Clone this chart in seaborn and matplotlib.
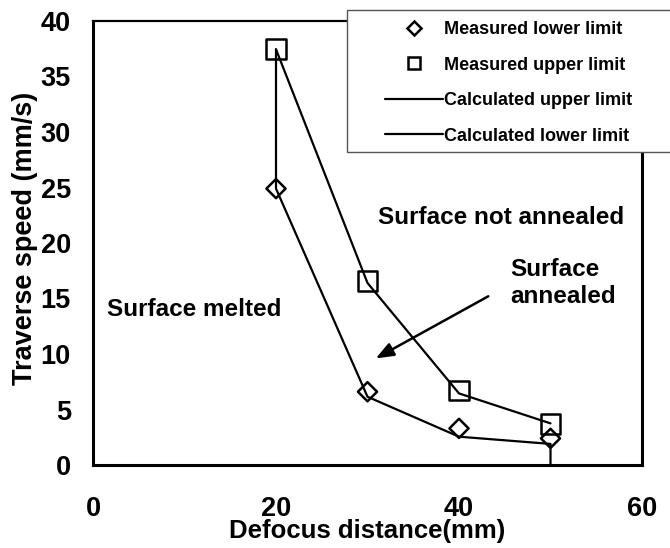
import matplotlib
matplotlib.use("Agg")
import matplotlib.pyplot as plt
import seaborn as sns
import pandas as pd
from matplotlib.lines import Line2D
from matplotlib.patches import Rectangle

# ---- data ----
defocus = [20, 30, 40, 50]
measured_lower = [24.9, 6.6, 3.3, 2.4]
measured_upper = [37.45, 16.6, 6.7, 3.7]

calc_upper_x = [20, 30, 40, 50]
calc_upper_y = [37.45, 16.4, 6.45, 3.75]
calc_lower_x = [20, 20, 30, 40, 50, 50]
calc_lower_y = [37.45, 24.9, 6.15, 2.55, 1.9, 0.0]

x_ticks = [0, 20, 40, 60]
y_ticks = [0, 5, 10, 15, 20, 25, 30, 35, 40]

legend_labels = ["Measured lower limit", "Measured upper limit",
                 "Calculated upper limit", "Calculated lower limit"]

sns.set_theme(style="white")
plt.rcParams['font.family'] = ['Liberation Sans', 'DejaVu Sans']
plt.rcParams['font.weight'] = 'bold'
plt.rcParams['text.color'] = 'black'
plt.rcParams['axes.labelcolor'] = 'black'
plt.rcParams['xtick.color'] = 'black'
plt.rcParams['ytick.color'] = 'black'

W, H = 670, 548
fig = plt.figure(figsize=(W / 100, H / 100), dpi=100)
ax = fig.add_axes([93 / W, 1 - 465 / H, (642 - 93) / W, (465 - 21) / H])

cu = pd.DataFrame({"x": calc_upper_x, "y": calc_upper_y})
cl = pd.DataFrame({"x": calc_lower_x, "y": calc_lower_y})
sns.lineplot(data=cu, x="x", y="y", sort=False, estimator=None, color="black",
             linewidth=1.6, ax=ax)
sns.lineplot(data=cl, x="x", y="y", sort=False, estimator=None, color="black",
             linewidth=1.6, ax=ax)

sns.scatterplot(x=defocus, y=measured_lower, marker="D", s=95, facecolor="none",
                edgecolor="black", linewidth=1.8, ax=ax, zorder=3)
sns.scatterplot(x=defocus, y=measured_upper, marker="s", s=200, facecolor="none",
                edgecolor="black", linewidth=1.8, ax=ax, zorder=3)

ax.set_xlim(0, 60)
ax.set_ylim(0, 40)
ax.set_xticks(x_ticks)
ax.set_yticks(y_ticks)
ax.tick_params(axis="both", direction="in", length=7, width=1.5, colors="black",
               labelsize=19.5)
ax.tick_params(axis="x", pad=22)
ax.tick_params(axis="y", pad=16)
for lab in ax.get_xticklabels() + ax.get_yticklabels():
    lab.set_fontweight("bold")

for side in ["left", "bottom", "right", "top"]:
    ax.spines[side].set_color("black")
    ax.spines[side].set_linewidth(2.2)
ax.spines["top"].set_linewidth(1.6)

ax.set_xlabel("Defocus distance(mm)", fontsize=18.5, fontweight="bold")
ax.set_ylabel("Traverse speed (mm/s)", fontsize=19.5, fontweight="bold")
ax.xaxis.set_label_coords(0.5, -0.122)
ax.yaxis.set_label_coords(-0.1, 0.51)

ax.text(31.1, 22.3, "Surface not annealed", fontsize=17.5, fontweight="bold",
        ha="left", va="center")
ax.text(45.6, 16.4, "Surface\nannealed", fontsize=17.5, fontweight="bold",
        ha="left", va="center", linespacing=1.25)
ax.text(1.5, 14.0, "Surface melted", fontsize=17.5, fontweight="bold",
        ha="left", va="center")
ax.annotate("", xy=(30.9, 9.6), xytext=(43.2, 15.2),
            arrowprops=dict(arrowstyle="-|>,head_length=0.9,head_width=0.35",
                            color="black", lw=1.8, shrinkA=0, shrinkB=0))

# legend frame
fig.patches.append(Rectangle((347 / W, 1 - 152 / H), (672 - 347) / W, 142 / H,
                             transform=fig.transFigure, facecolor="white",
                             edgecolor="#555555", linewidth=1.0, zorder=5))
handles = [
    Line2D([], [], marker="D", linestyle="none", markersize=7, markerfacecolor="none",
           markeredgecolor="black", markeredgewidth=1.8, color="black"),
    Line2D([], [], marker="s", linestyle="none", markersize=9, markerfacecolor="none",
           markeredgecolor="black", markeredgewidth=1.8, color="black"),
    Line2D([], [], color="black", linewidth=1.6),
    Line2D([], [], color="black", linewidth=1.6),
]
leg = fig.legend(handles, legend_labels, loc="upper left",
                 bbox_to_anchor=(385 / W, 1 - 21 / H), bbox_transform=fig.transFigure,
                 frameon=False, borderpad=0, borderaxespad=0, handlelength=3.2,
                 handletextpad=0.05, labelspacing=1.03,
                 prop={"size": 13, "weight": "bold"})
leg.set_zorder(6)

fig.savefig("out.png", dpi=100)
